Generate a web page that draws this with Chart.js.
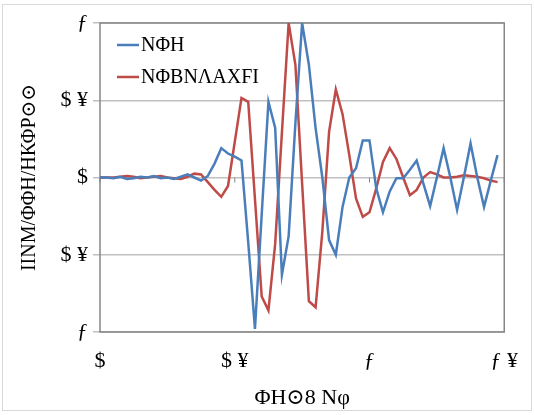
<!DOCTYPE html>
<html>
<head>
<meta charset="utf-8">
<script src="https://cdn.jsdelivr.net/npm/chart.js@4/dist/chart.umd.min.js"></script>
<style>
  html, body { margin: 0; padding: 0; background: #fff; }
  #wrap { position: relative; width: 534px; height: 415px; }
</style>
</head>
<body>
<div id="wrap"><canvas id="chart"></canvas></div>
<script>
// sample positions along x
const xValues = [
  0, 0.025, 0.05, 0.075, 0.1, 0.125, 0.15, 0.175, 0.2, 0.225,
  0.25, 0.275, 0.3, 0.325, 0.35, 0.375, 0.4, 0.425, 0.45, 0.475,
  0.5, 0.525, 0.55, 0.575, 0.6, 0.625, 0.65, 0.675, 0.7, 0.725,
  0.75, 0.775, 0.8, 0.825, 0.85, 0.875, 0.9, 0.925, 0.95, 0.975,
  1, 1.025, 1.05, 1.075, 1.1, 1.125, 1.15, 1.175, 1.2, 1.225,
  1.25, 1.275, 1.3, 1.325, 1.35, 1.375, 1.4, 1.425, 1.45, 1.475
]
const blueValues = [
  0, 0, -0.005, 0.005, -0.01, -0.005, 0.005, 0, 0.01, -0.005,
  0, -0.01, 0.005, 0.02, 0, -0.02, 0.01, 0.09, 0.19, 0.155,
  0.135, 0.11, -0.42, -0.98, -0.24, 0.49, 0.32, -0.63, -0.38, 0.35,
  1.0, 0.73, 0.32, 0.0, -0.405, -0.5, -0.19, 0.0, 0.06, 0.24,
  0.24, -0.07, -0.225, -0.09, -0.005, -0.005, 0.05, 0.11, -0.04, -0.185,
  0.0, 0.19, 0.0, -0.21, 0.0, 0.22, 0.0, -0.19, -0.02, 0.145
]
const redValues = [
  0, 0, 0, 0.005, 0.01, 0.005, -0.005, 0, 0.005, 0.01,
  0, -0.005, -0.01, 0.005, 0.025, 0.02, -0.03, -0.08, -0.125, -0.055,
  0.23, 0.515, 0.49, -0.14, -0.77, -0.86, -0.43, 0.29, 1.0, 0.73,
  -0.04, -0.8, -0.84, -0.35, 0.295, 0.57, 0.41, 0.145, -0.135, -0.255,
  -0.225, -0.07, 0.1, 0.19, 0.12, 0.0, -0.115, -0.08, 0.0, 0.035,
  0.02, 0.0, 0.0, 0.005, 0.015, 0.01, 0.005, -0.005, -0.02, -0.03
]
const seriesNames = ["ΝΦΗ", "ΝΦΒΝΛΑΧϜΙ"]
const seriesColors = ["#4a7ebb", "#be4b48"]

const yTicks = [-1, -0.5, 0, 0.5, 1]
const yTickLabels = ["ƒ", "$ ¥", "$", "$ ¥", "ƒ"]
const xTicks = [0, 0.5, 1, 1.5]
const xTickLabels = ["$", "$ ¥", "ƒ", "ƒ ¥"]
const xTitle = "ΦΗ⊙8 Νφ"
const yTitle = "ΙΙΝΜ/ΦΦΗ/ΗΚΦΡ⊙⊙"

const serif = '"Liberation Serif", "DejaVu Serif", serif'

const frame = {
  id: 'frame',
  beforeDraw(chart) {
    const ctx = chart.ctx
    ctx.save()
    ctx.fillStyle = '#fff'
    ctx.fillRect(0, 0, chart.width, chart.height)
    ctx.strokeStyle = '#d9d9d9'
    ctx.lineWidth = 1
    ctx.strokeRect(2.5, 4.5, 529, 406)
    ctx.restore()
  },
  beforeDatasetsDraw(chart) {
    const ctx = chart.ctx
    const a = chart.chartArea
    const xs = chart.scales.x, ys = chart.scales.y
    ctx.save()
    ctx.strokeStyle = '#868686'
    ctx.lineWidth = 1.5
    ctx.strokeRect(a.left, a.top, a.right - a.left, a.bottom - a.top)
    // small tick marks on the zero line
    const y0 = ys.getPixelForValue(0)
    ctx.lineWidth = 1
    ctx.beginPath()
    xTicks.forEach(v => {
      const px = xs.getPixelForValue(v)
      ctx.moveTo(px, y0)
      ctx.lineTo(px, y0 + 5)
    })
    ctx.stroke()
    ctx.restore()
  },
  afterDatasetsDraw(chart) {
    const ctx = chart.ctx
    ctx.save()
    ctx.font = '20px ' + serif
    ctx.textBaseline = 'middle'
    ctx.fillStyle = '#000'
    chart.data.datasets.forEach((ds, i) => {
      const y = 45 + i * 32
      ctx.strokeStyle = ds.borderColor
      ctx.lineWidth = 2.5
      ctx.beginPath()
      ctx.moveTo(117, y)
      ctx.lineTo(139, y)
      ctx.stroke()
      ctx.fillText(ds.label, 141, y + 1)
    })
    ctx.restore()
  }
}

const makeSeries = (vals) => vals.map((v, i) => ({ x: xValues[i], y: v }))

new Chart(document.getElementById('chart'), {
  type: 'scatter',
  data: {
    datasets: [
      { label: seriesNames[0], data: makeSeries(blueValues), borderColor: seriesColors[0], showLine: true, borderWidth: 2.5, pointRadius: 0, tension: 0 },
      { label: seriesNames[1], data: makeSeries(redValues), borderColor: seriesColors[1], showLine: true, borderWidth: 2.5, pointRadius: 0, tension: 0 }
    ]
  },
  options: {
    responsive: true,
    maintainAspectRatio: false,
    animation: false,
    devicePixelRatio: 1,
    layout: { padding: { left: 0, top: 23, right: 29, bottom: 0 } },
    plugins: { legend: { display: false }, tooltip: { enabled: false } },
    scales: {
      x: {
        type: 'linear', min: 0, max: 1.5,
        afterBuildTicks: s => { s.ticks = xTicks.map(v => ({ value: v })) },
        afterFit: s => { s.height = 83 },
        grid: { display: false, drawTicks: false },
        border: { display: false },
        ticks: {
          padding: 16, color: '#000', maxRotation: 0,
          font: { family: serif, size: 22 },
          callback: v => xTickLabels[xTicks.indexOf(v)]
        },
        title: { display: true, text: xTitle, color: '#000', font: { family: serif, size: 22 }, padding: { top: 0, bottom: 4 } }
      },
      y: {
        min: -1, max: 1,
        afterBuildTicks: s => { s.ticks = yTicks.map(v => ({ value: v })) },
        afterFit: s => { s.width = 100 },
        grid: { color: '#c0c0c0', lineWidth: 1.5, tickLength: 7 },
        border: { display: false },
        ticks: {
          padding: 5, color: '#000',
          font: { family: serif, size: 22 },
          callback: v => yTickLabels[yTicks.indexOf(v)]
        },
        title: { display: true, text: yTitle, color: '#000', font: { family: serif, size: 20 }, padding: { top: 18, bottom: 0 } }
      }
    }
  },
  plugins: [frame]
})
</script>
</body>
</html>
